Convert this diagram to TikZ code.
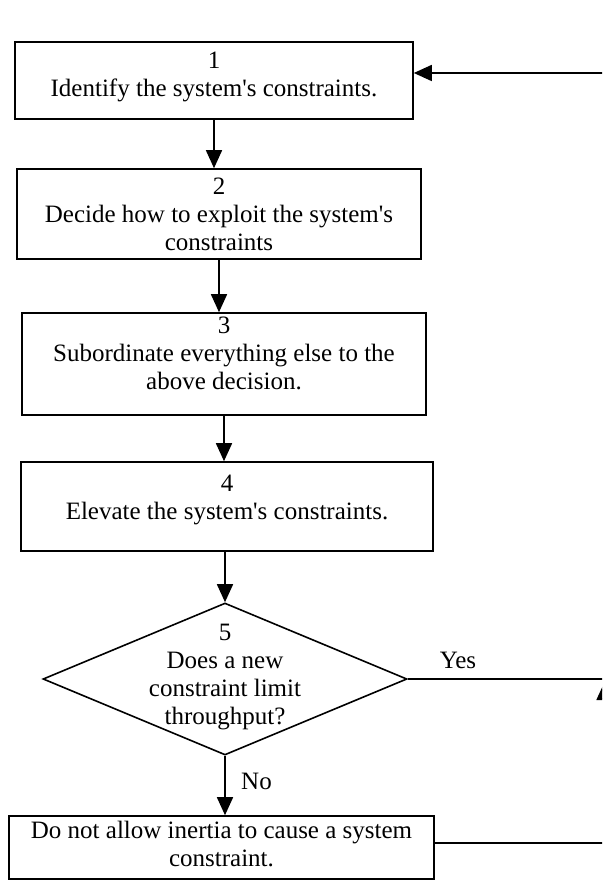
\documentclass[tikz,border=0pt]{standalone}
\usepackage{fontspec}
\setmainfont{Liberation Serif}
\usetikzlibrary{arrows.meta,shapes.geometric}
\begin{document}
\begin{tikzpicture}[x=1pt,y=-1pt,
  every node/.style={font=\fontsize{25}{28}\selectfont},
  stepbox/.style={draw, line width=1.6pt, rectangle, inner sep=0pt},
  boxtext/.style={anchor=north, align=center, inner sep=0pt},
  decide/.style={draw, line width=1.6pt, diamond, inner sep=0pt},
  flow/.style={line width=1.6pt},
  arr/.style={flow, -{Triangle[length=18pt,width=16pt]}},
]
\useasboundingbox (0,0) rectangle (602,882);
\clip (0,0) rectangle (602,882);

% process steps
\node[stepbox, minimum width=398pt, minimum height=77pt]  (b1) at (214,80.5) {};
\node[stepbox, minimum width=404pt, minimum height=90pt]  (b2) at (219,214) {};
\node[stepbox, minimum width=404pt, minimum height=102pt] (b3) at (224,364) {};
\node[stepbox, minimum width=412pt, minimum height=89pt]  (b4) at (227,506.5) {};
\node[decide, minimum width=364pt, minimum height=152pt]  (d5) at (225,679) {};
\node[stepbox, minimum width=425pt, minimum height=63pt]  (b6) at (221.5,847.5) {};

% texts inside the steps
\node[boxtext] (t1) at ([yshift=-11pt]b1.north) {1\\Identify the system\textquotesingle s constraints.};
\node[boxtext] (t2) at ([yshift=-10pt]b2.north) {2\\Decide how to exploit the system\textquotesingle s\\constraints};
\node[boxtext] (t3) at ([yshift=-5pt]b3.north) {3\\Subordinate everything else to the\\above decision.};
\node[boxtext] (t4) at ([yshift=-14pt]b4.north) {4\\Elevate the system\textquotesingle s constraints.};
\node[boxtext] (t5) at ([yshift=-22pt]d5.north) {5\\Does a new\\constraint limit\\throughput?};
\node[boxtext] (t6) at ([yshift=-6pt]b6.north) {Do not allow inertia to cause a system\\constraint.};

% branch labels
\node[inner sep=0pt] (yes) at (458,660) {Yes};
\node[inner sep=0pt, anchor=west] (no) at (241,781) {No};

% main flow
\draw[arr] (b1.south) -- (b1.south |- b2.north);
\draw[arr] (b2.south) -- (b2.south |- b3.north);
\draw[arr] (b3.south) -- (b3.south |- b4.north);
\draw[arr] (d5.north |- b4.south) -- (d5.north);
\draw[arr] (d5.south) -- (d5.south |- b6.north);

% return loop along the right side
\coordinate (rt) at (604.5,73);
\coordinate (ry) at (604.5,679);
\coordinate (rtip) at (604.5,682);
\coordinate (rb) at (604.5,843);
\draw[flow] (d5.east) -- (ry) -- (rt);
\draw[arr] (rt) -- (rt -| b1.east);
\draw[arr] (rb -| b6.east) -- (rb) -- (rtip);
\end{tikzpicture}
\end{document}
